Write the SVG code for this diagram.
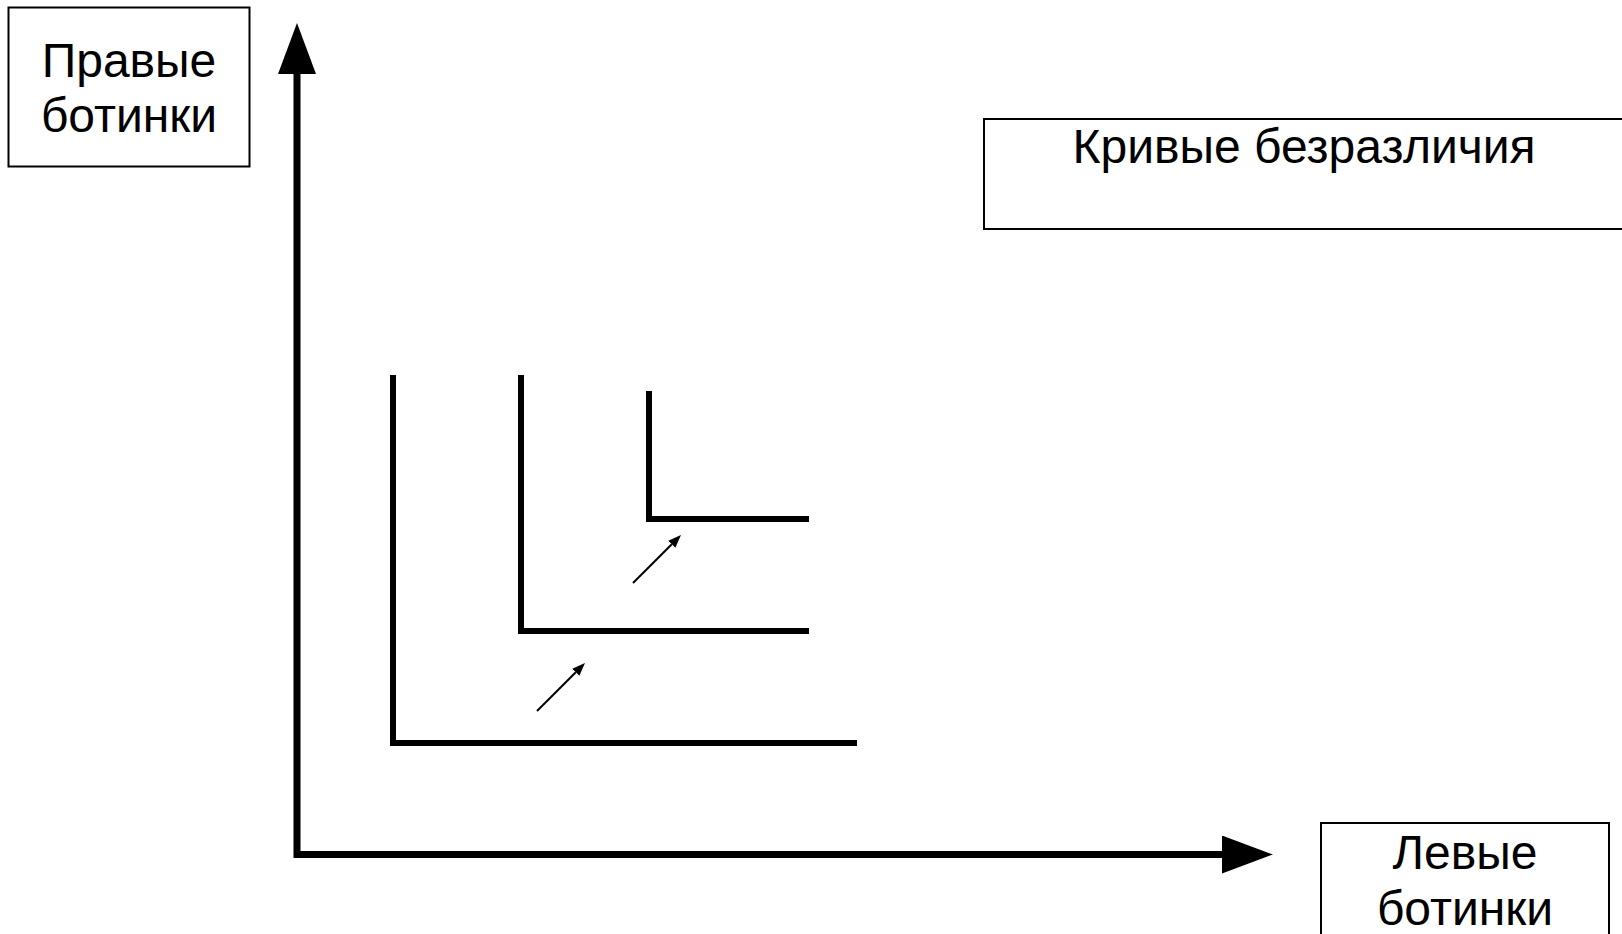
<svg xmlns="http://www.w3.org/2000/svg" width="1622" height="934" viewBox="0 0 1622 934">
<style>
.box{fill:#fff;stroke:#000;stroke-width:2}
.lbl{font-family:"Liberation Sans",Arial,sans-serif;font-size:48px;fill:#000;text-anchor:middle}
.axis{stroke:#000;stroke-width:7;fill:none}
.curve{stroke:#000;stroke-width:6;fill:none;stroke-linejoin:miter}
.small{stroke:#000;stroke-width:2;fill:none}
</style>
<defs>
<marker id="bigHead" markerUnits="userSpaceOnUse" viewBox="0 0 51 38" refX="0" refY="19" markerWidth="51" markerHeight="38" orient="auto">
<path d="M0,0 L51,19 L0,38 Z" fill="#000"/>
</marker>
<marker id="smallHead" markerUnits="userSpaceOnUse" viewBox="0 0 13 10" refX="0" refY="5" markerWidth="13" markerHeight="10" orient="auto">
<path d="M0,0 L13,5 L0,10 Z" fill="#000"/>
</marker>
</defs>
<g id="connectors">
<path id="y-axis" class="axis" d="M297,858 V74" marker-end="url(#bigHead)"/>
<path id="x-axis" class="axis" d="M297,854.5 H1222" marker-end="url(#bigHead)"/>
<path id="arrow1" class="small" d="M537,711 L575.8,672.2" marker-end="url(#smallHead)"/>
<path id="arrow2" class="small" d="M633,583 L671.8,544.2" marker-end="url(#smallHead)"/>
</g>
<g id="curve1"><path class="curve" d="M393,375 V743 H857"/></g>
<g id="curve2"><path class="curve" d="M521,375 V631 H809"/></g>
<g id="curve3"><path class="curve" d="M649,391 V519 H809"/></g>
<g id="label-right-shoes">
<rect class="box" x="8.5" y="7.5" width="241" height="159"/>
<text class="lbl" x="129" y="76.5">Правые</text>
<text class="lbl" x="129" y="132">ботинки</text>
</g>
<g id="label-curves">
<rect class="box" x="984" y="119" width="660" height="110"/>
<text class="lbl" x="1304" y="163">Кривые безразличия</text>
</g>
<g id="label-left-shoes">
<rect class="box" x="1321" y="823" width="288" height="130"/>
<text class="lbl" x="1465" y="869">Левые</text>
<text class="lbl" x="1465" y="925">ботинки</text>
</g>
</svg>
